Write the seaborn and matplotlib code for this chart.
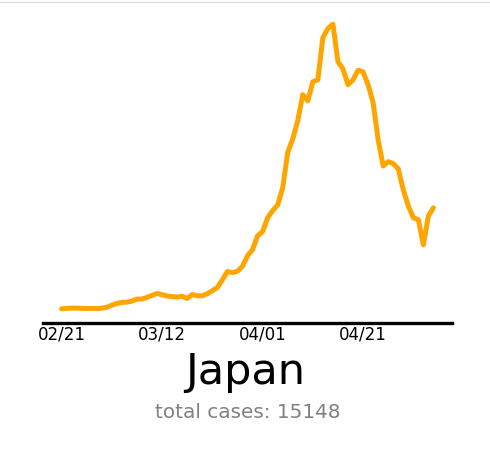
import matplotlib
matplotlib.use("Agg")
import matplotlib.pyplot as plt
import matplotlib.dates as mdates
from matplotlib.lines import Line2D
import seaborn as sns
import pandas as pd

country = "Japan"
total_cases = 15148
start_date = "2020-02-21"
daily_new = [
    14.7, 15.4, 16.2, 16.0, 15.6, 15.4, 15.4, 15.4, 15.8, 17.9,
    22.1, 25.9, 28.2, 28.6, 30.9, 35.1, 35.1, 38.7, 42.9, 46.9,
    44.2, 41.6, 40.4, 39.3, 41.0, 36.4, 44.6, 42.1, 42.1, 46.3,
    52.6, 59.5, 75.7, 93.0, 90.8, 93.6, 104, 126, 139, 168,
    177, 206, 221, 233, 269, 343, 372, 410, 465, 452,
    492, 496, 585, 604, 613, 534, 519, 486, 496, 516,
    513, 486, 448, 370, 315, 324, 320, 309, 265, 231,
    206, 202, 149, 210, 227,
]
tick_dates = ["2020-02-21", "2020-03-12", "2020-04-01", "2020-04-21"]

df = pd.DataFrame({
    "date": pd.date_range(start_date, periods=len(daily_new), freq="D"),
    "cases": daily_new,
})

sns.set_style("white")
plt.rcParams["font.family"] = ["DejaVu Sans"]

fig = plt.figure(figsize=(4.9, 4.5), dpi=100)
ax = fig.add_axes([43 / 490, 1 - 323 / 450, (452 - 43) / 490, (323 - 10) / 450])

sns.lineplot(data=df, x="date", y="cases", color="#FFA500", linewidth=3.6, ax=ax)

ax.set_xlabel("")
ax.set_ylabel("")
ticks = pd.to_datetime(tick_dates)
ax.set_xticks(ticks)
ax.xaxis.set_major_formatter(mdates.DateFormatter("%m/%d"))
ax.set_yticks(range(0, 700, 100))
ax.tick_params(axis="x", length=0, pad=1.5, labelsize=12, labelcolor="black")
ax.tick_params(axis="y", length=1.5, width=1, color="#bbbbbb", labelleft=False, direction="out")

for s in ["left", "right", "top"]:
    ax.spines[s].set_visible(False)
ax.spines["bottom"].set_color("black")
ax.spines["bottom"].set_linewidth(2.4)
ax.grid(False)

fig.text(245 / 490, 1 - 384 / 450, country, ha="center", va="baseline", fontsize=31, color="black")
fig.text(248 / 490, 1 - 418.3 / 450, f"total cases: {total_cases}", ha="center", va="baseline",
         fontsize=14.4, color="#808080")
fig.add_artist(Line2D([0, 1], [0.996, 0.996], transform=fig.transFigure, color="#dddddd", linewidth=1))

fig.savefig("out.png", dpi=100)
